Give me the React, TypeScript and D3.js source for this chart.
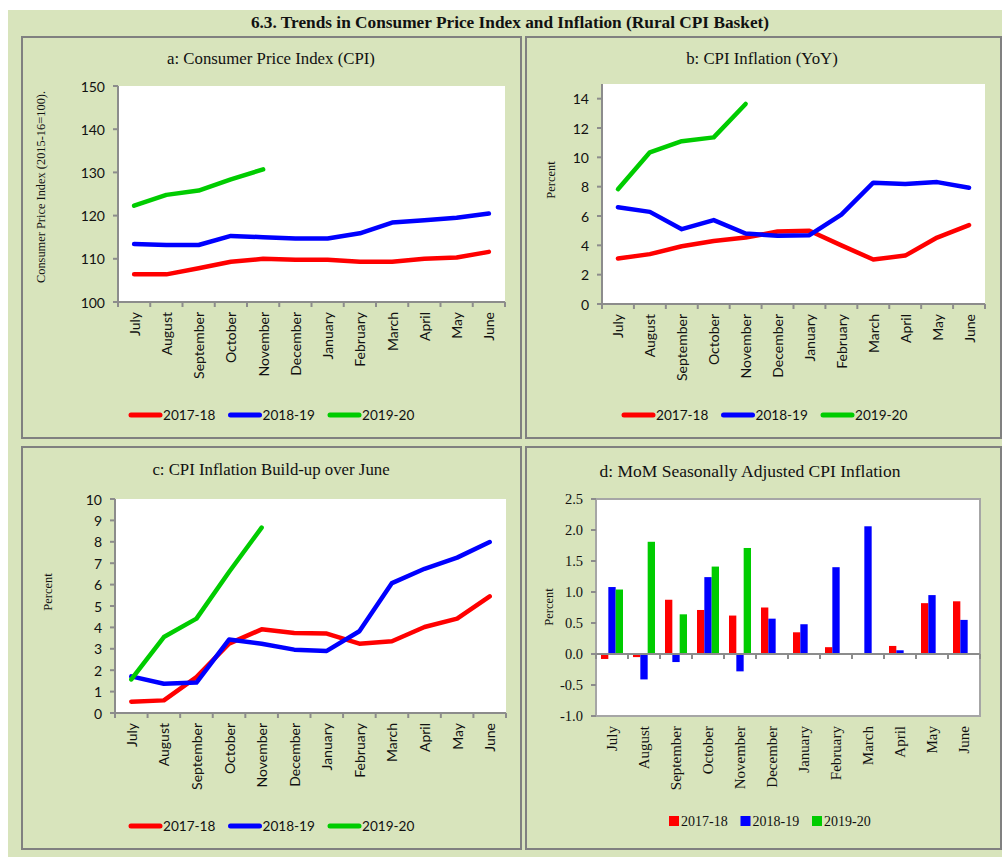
import React from "react";
import * as d3 from "d3";

const months = ["July", "August", "September", "October", "November", "December", "January", "February", "March", "April", "May", "June"];
const seriesNames = ["2017-18", "2018-19", "2019-20"];
const seriesColors = ["#ff0000", "#0000ff", "#00cc00"];

// a: CPI (2015-16=100)
const cpi1718 = [106.4, 106.4, 107.8, 109.3, 110.0, 109.8, 109.8, 109.3, 109.3, 110.0, 110.3, 111.6];
const cpi1819 = [113.4, 113.2, 113.2, 115.3, 115.0, 114.7, 114.7, 115.9, 118.4, 118.9, 119.5, 120.5];
const cpi1920 = [122.3, 124.8, 125.8, 128.4, 130.7, null, null, null, null, null, null, null];

// b: YoY inflation
const yoy1718 = [3.1, 3.4, 3.94, 4.3, 4.53, 4.94, 4.99, 4.0, 3.03, 3.3, 4.53, 5.38];
const yoy1819 = [6.6, 6.28, 5.1, 5.72, 4.81, 4.65, 4.69, 6.1, 8.27, 8.18, 8.31, 7.93];
const yoy1920 = [7.83, 10.34, 11.1, 11.36, 13.64, null, null, null, null, null, null, null];

// c: build-up over June
const bu1718 = [0.53, 0.59, 1.68, 3.24, 3.91, 3.74, 3.71, 3.24, 3.35, 4.02, 4.41, 5.45];
const bu1819 = [1.71, 1.37, 1.42, 3.43, 3.24, 2.96, 2.9, 3.82, 6.07, 6.74, 7.26, 7.99];
const bu1920 = [1.57, 3.55, 4.41, 6.59, 8.66, null, null, null, null, null, null, null];

// d: MoM seasonally adjusted
const mom1718 = [-0.08, -0.05, 0.875, 0.71, 0.62, 0.75, 0.35, 0.11, null, 0.13, 0.82, 0.85];
const mom1819 = [1.08, -0.41, -0.13, 1.24, -0.28, 0.57, 0.48, 1.4, 2.06, 0.06, 0.95, 0.55];
const mom1920 = [1.04, 1.81, 0.64, 1.41, 1.71, null, null, null, null, null, null, null];

const ticksA = [100, 110, 120, 130, 140, 150];
const ticksB = [0, 2, 4, 6, 8, 10, 12, 14];
const ticksC = [0, 1, 2, 3, 4, 5, 6, 7, 8, 9, 10];
const ticksD = [-1.0, -0.5, 0.0, 0.5, 1.0, 1.5, 2.0, 2.5];

const BG = "#d8e4bc";
const BORDER = "#808080";
const AXIS = "#8c8c8c";
const SANS = "Lato, 'Liberation Sans', sans-serif";
const SERIF = "'Liberation Serif', 'DejaVu Serif', serif";

type Box = { x: number; y: number; w: number; h: number };
type Plot = { x0: number; x1: number; y0: number; y1: number };

function LinePanel(props: {
  box: Box; plot: Plot; domain: [number, number]; ticks: number[];
  title: string; titleX: number; titleY: number;
  ylabel: string; ylabelX: number; ylabelY: number; ylabelSize: number;
  data: (number | null)[][]; legendX: number; legendY: number;
}) {
  const { box, plot, domain, ticks, title, titleX, titleY, ylabel, ylabelX, ylabelY, ylabelSize, data, legendX, legendY } = props;
  const x = d3.scaleBand<string>().domain(months).range([plot.x0, plot.x1]).padding(0);
  const y = d3.scaleLinear().domain(domain).range([plot.y1, plot.y0]);
  const bw = x.bandwidth();
  const line = d3.line<number | null>()
    .defined((d) => d != null)
    .x((_, i) => (x(months[i]) as number) + bw / 2)
    .y((d) => y(d as number));
  const boundaries = months.map((m) => x(m) as number).concat([plot.x1]);
  return (
    <g>
      <rect x={box.x} y={box.y} width={box.w} height={box.h} fill="none" stroke={BORDER} strokeWidth={2} />
      <text x={titleX} y={titleY} textAnchor="middle" fontFamily={SERIF} fontSize={16.8} fill="#111">{title}</text>
      <rect x={plot.x0} y={plot.y0} width={plot.x1 - plot.x0} height={plot.y1 - plot.y0} fill="#fff" />
      <line x1={plot.x0} x2={plot.x0} y1={plot.y0} y2={plot.y1} stroke={AXIS} strokeWidth={2} />
      {ticks.map((t) => (
        <g key={t}>
          <line x1={plot.x0 - 5} x2={plot.x0} y1={y(t)} y2={y(t)} stroke={AXIS} strokeWidth={2} />
          <text x={plot.x0 - 13} y={y(t)} textAnchor="end" dominantBaseline="central" fontFamily={SANS} fontSize={14} fill="#111">{t}</text>
        </g>
      ))}
      <line x1={plot.x0 - 1} x2={plot.x1} y1={plot.y1} y2={plot.y1} stroke={AXIS} strokeWidth={2} />
      {boundaries.map((b, i) => (
        <line key={i} x1={b} x2={b} y1={plot.y1} y2={plot.y1 + 5} stroke={AXIS} strokeWidth={2} />
      ))}
      {months.map((m) => {
        const cx = (x(m) as number) + bw / 2;
        const ty = plot.y1 + 10;
        return (
          <text key={m} x={cx} y={ty} transform={`rotate(-90 ${cx} ${ty})`} textAnchor="end" dominantBaseline="central" fontFamily={SANS} fontSize={14} fill="#111">{m}</text>
        );
      })}
      <text x={ylabelX} y={ylabelY} transform={`rotate(-90 ${ylabelX} ${ylabelY})`} textAnchor="middle" dominantBaseline="central" fontFamily={SERIF} fontSize={ylabelSize} fill="#111">{ylabel}</text>
      {data.map((s, i) => (
        <path key={i} d={line(s) || ""} fill="none" stroke={seriesColors[i]} strokeWidth={4.5} strokeLinejoin="round" strokeLinecap="round" />
      ))}
      {seriesNames.map((n, i) => {
        const lx = legendX + i * 99.5;
        return (
          <g key={n}>
            <line x1={lx + 2} x2={lx + 31} y1={legendY} y2={legendY} stroke={seriesColors[i]} strokeWidth={5} strokeLinecap="round" />
            <text x={lx + 34} y={legendY} dominantBaseline="central" fontFamily={SANS} fontSize={13.6} fill="#111">{n}</text>
          </g>
        );
      })}
    </g>
  );
}

function BarPanel() {
  const box: Box = { x: 526, y: 447, w: 475, h: 402 };
  const plot: Plot = { x0: 596, x1: 980, y0: 499, y1: 716 };
  const x = d3.scaleBand<string>().domain(months).range([plot.x0, plot.x1]).padding(0);
  const y = d3.scaleLinear().domain([-1, 2.5]).range([plot.y1, plot.y0]);
  const bw = x.bandwidth();
  const inner = d3.scaleBand<string>().domain(seriesNames).range([bw / 2 - 11, bw / 2 + 11]).padding(0);
  const data = [mom1718, mom1819, mom1920];
  const boundaries = months.map((m) => x(m) as number).concat([plot.x1]);
  const y0 = y(0);
  return (
    <g>
      <rect x={box.x} y={box.y} width={box.w} height={box.h} fill="none" stroke={BORDER} strokeWidth={2} />
      <text x={750} y={477} textAnchor="middle" fontFamily={SERIF} fontSize={17.5} fill="#111">d: MoM Seasonally Adjusted CPI Inflation</text>
      <rect x={plot.x0} y={plot.y0} width={plot.x1 - plot.x0} height={plot.y1 - plot.y0} fill="#fff" stroke="#a6a6a6" strokeWidth={2} />
      {ticksD.map((t) => (
        <g key={t}>
          <line x1={plot.x0 - 5} x2={plot.x0} y1={y(t)} y2={y(t)} stroke={AXIS} strokeWidth={2} />
          <text x={plot.x0 - 13} y={y(t)} textAnchor="end" dominantBaseline="central" fontFamily={SERIF} fontSize={14.5} fill="#111">{t.toFixed(1)}</text>
        </g>
      ))}
      {data.map((s, si) =>
        s.map((v, i) => {
          if (v == null) return null;
          const bx = (x(months[i]) as number) + (inner(seriesNames[si]) as number);
          return (
            <rect key={`${si}-${i}`} x={bx} y={Math.min(y(v), y0)} width={inner.bandwidth()} height={Math.abs(y(v) - y0)} fill={seriesColors[si]} />
          );
        })
      )}
      <line x1={plot.x0} x2={plot.x1} y1={y0} y2={y0} stroke={AXIS} strokeWidth={2} />
      {boundaries.map((b, i) => (
        <line key={i} x1={b} x2={b} y1={y0} y2={y0 + 5} stroke={AXIS} strokeWidth={2} />
      ))}
      {months.map((m) => {
        const cx = (x(m) as number) + bw / 2;
        const ty = plot.y1 + 10;
        return (
          <text key={m} x={cx} y={ty} transform={`rotate(-90 ${cx} ${ty})`} textAnchor="end" dominantBaseline="central" fontFamily={SERIF} fontSize={15} fill="#111">{m}</text>
        );
      })}
      <text x={549} y={607} transform="rotate(-90 549 607)" textAnchor="middle" dominantBaseline="central" fontFamily={SERIF} fontSize={12.5} fill="#111">Percent</text>
      {seriesNames.map((n, i) => {
        const lx = 669 + i * 71.5;
        return (
          <g key={n}>
            <rect x={lx} y={816} width={10} height={10} fill={seriesColors[i]} />
            <text x={lx + 12} y={821} dominantBaseline="central" fontFamily={SERIF} fontSize={14} fill="#111">{n}</text>
          </g>
        );
      })}
    </g>
  );
}

export default function App() {
  return (
    <svg width={1002} height={857} style={{ position: "absolute", left: 0, top: 0 }}>
      <rect x={0} y={0} width={1002} height={857} fill="#fff" />
      <rect x={8} y={10} width={994} height={847} fill={BG} />
      <text x={510} y={28} textAnchor="middle" fontFamily={SERIF} fontWeight="bold" fontSize={17.3} fill="#111">6.3. Trends in Consumer Price Index and Inflation (Rural CPI Basket)</text>
      <LinePanel
        box={{ x: 22, y: 37, w: 499, h: 401 }}
        plot={{ x0: 118, x1: 505, y0: 86, y1: 302 }}
        domain={[100, 150]} ticks={ticksA}
        title="a: Consumer Price Index (CPI)" titleX={271} titleY={64}
        ylabel="Consumer Price Index (2015-16=100)." ylabelX={41} ylabelY={187} ylabelSize={12.4}
        data={[cpi1718, cpi1819, cpi1920]} legendX={129} legendY={415}
      />
      <LinePanel
        box={{ x: 526, y: 37, w: 475, h: 401 }}
        plot={{ x0: 602, x1: 985, y0: 84, y1: 304 }}
        domain={[0, 15]} ticks={ticksB}
        title="b: CPI Inflation (YoY)" titleX={762} titleY={64}
        ylabel="Percent" ylabelX={551} ylabelY={180} ylabelSize={12.5}
        data={[yoy1718, yoy1819, yoy1920]} legendX={622} legendY={415}
      />
      <LinePanel
        box={{ x: 22, y: 447, w: 499, h: 402 }}
        plot={{ x0: 115, x1: 506, y0: 499, y1: 713 }}
        domain={[0, 10]} ticks={ticksC}
        title="c: CPI Inflation Build-up over June" titleX={271} titleY={475}
        ylabel="Percent" ylabelX={48} ylabelY={592} ylabelSize={12.5}
        data={[bu1718, bu1819, bu1920]} legendX={129} legendY={826}
      />
      <BarPanel />
    </svg>
  );
}
